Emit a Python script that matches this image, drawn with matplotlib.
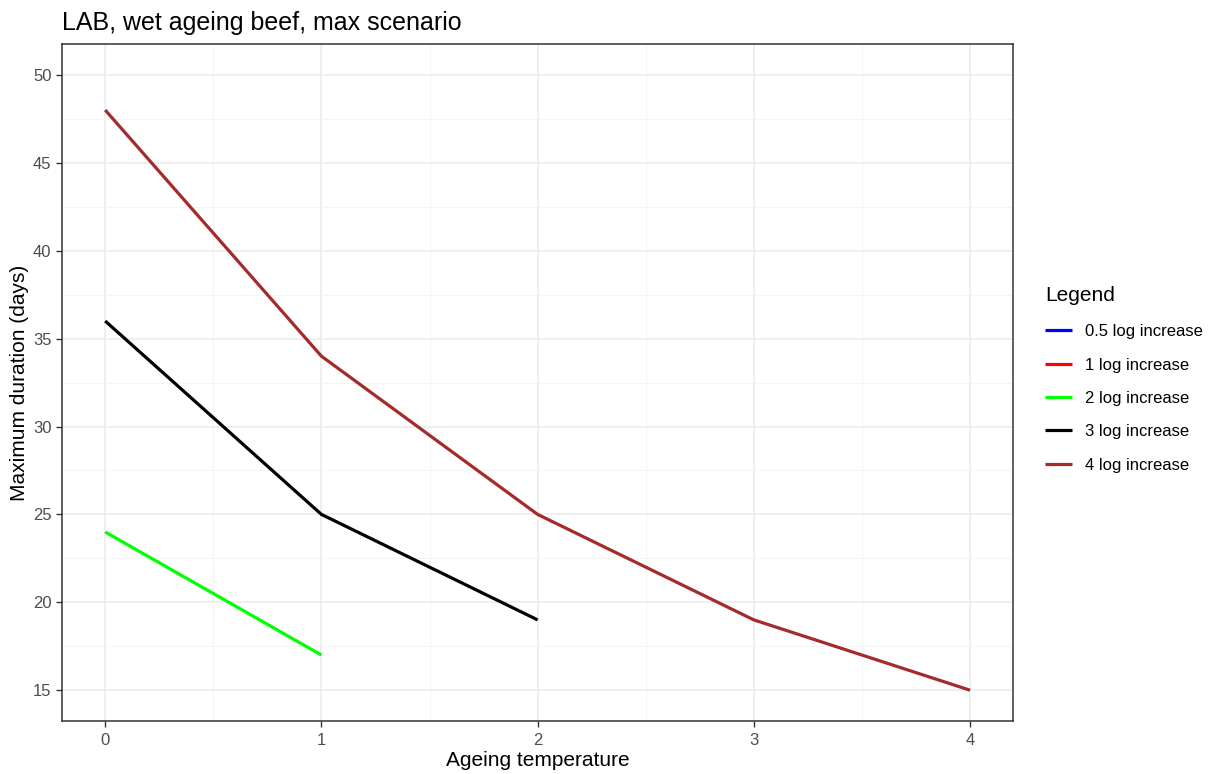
import matplotlib.pyplot as plt
from matplotlib.ticker import MultipleLocator

plt.rcParams['font.family'] = ['Liberation Sans', 'DejaVu Sans']

# Data
temp = [0, 1, 2, 3, 4]
labels = ['0.5 log increase', '1 log increase', '2 log increase', '3 log increase', '4 log increase']
colors = ['#0000FF', '#FF0000', '#00FF00', '#000000', '#A52A2A']

log05 = []          # not visible in the chart
log1 = []           # not visible in the chart
log2 = [24, 17]
log3 = [36, 25, 19]
log4 = [48, 34, 25, 19, 15]

series = [log05, log1, log2, log3, log4]

fig = plt.figure(figsize=(12.15, 7.74), dpi=100)
ax = fig.add_axes([0.051, 0.0685, 0.783, 0.8745])

for vals, lab, col in zip(series, labels, colors):
    ax.plot(temp[:len(vals)], vals, color=col, linewidth=2.3, label=lab,
            solid_capstyle='butt', zorder=3)

ax.set_xlim(-0.2, 4.2)
ax.set_ylim(13.25, 51.75)
ax.xaxis.set_major_locator(MultipleLocator(1))
ax.xaxis.set_minor_locator(MultipleLocator(0.5))
ax.yaxis.set_major_locator(MultipleLocator(5))
ax.yaxis.set_minor_locator(MultipleLocator(2.5))

ax.grid(True, which='major', color='#EBEBEB', linewidth=1.1, zorder=0)
ax.grid(True, which='minor', color='#F3F3F3', linewidth=0.6, zorder=0)
ax.set_axisbelow(True)
for s in ax.spines.values():
    s.set_color('#333333')
    s.set_linewidth(1.1)

ax.tick_params(which='major', length=4, width=1, color='#333333',
               labelsize=12, labelcolor='#4D4D4D')
ax.tick_params(axis='x', which='major', pad=5)
ax.tick_params(which='minor', length=0)

ax.set_xlabel('Ageing temperature', fontsize=15, labelpad=2)
ax.set_ylabel('Maximum duration (days)', fontsize=15, labelpad=3)
ax.set_title('LAB, wet ageing beef, max scenario', fontsize=18, loc='left', pad=10)

leg = ax.legend(loc='center left', bbox_to_anchor=(1.018, 0.505), frameon=False,
                title='Legend', fontsize=12, title_fontsize=15,
                handlelength=1.6, handletextpad=0.8, labelspacing=1.1)
leg._legend_box.align = 'left'
leg._legend_box.sep = 14

fig.savefig('out.png', dpi=100)
